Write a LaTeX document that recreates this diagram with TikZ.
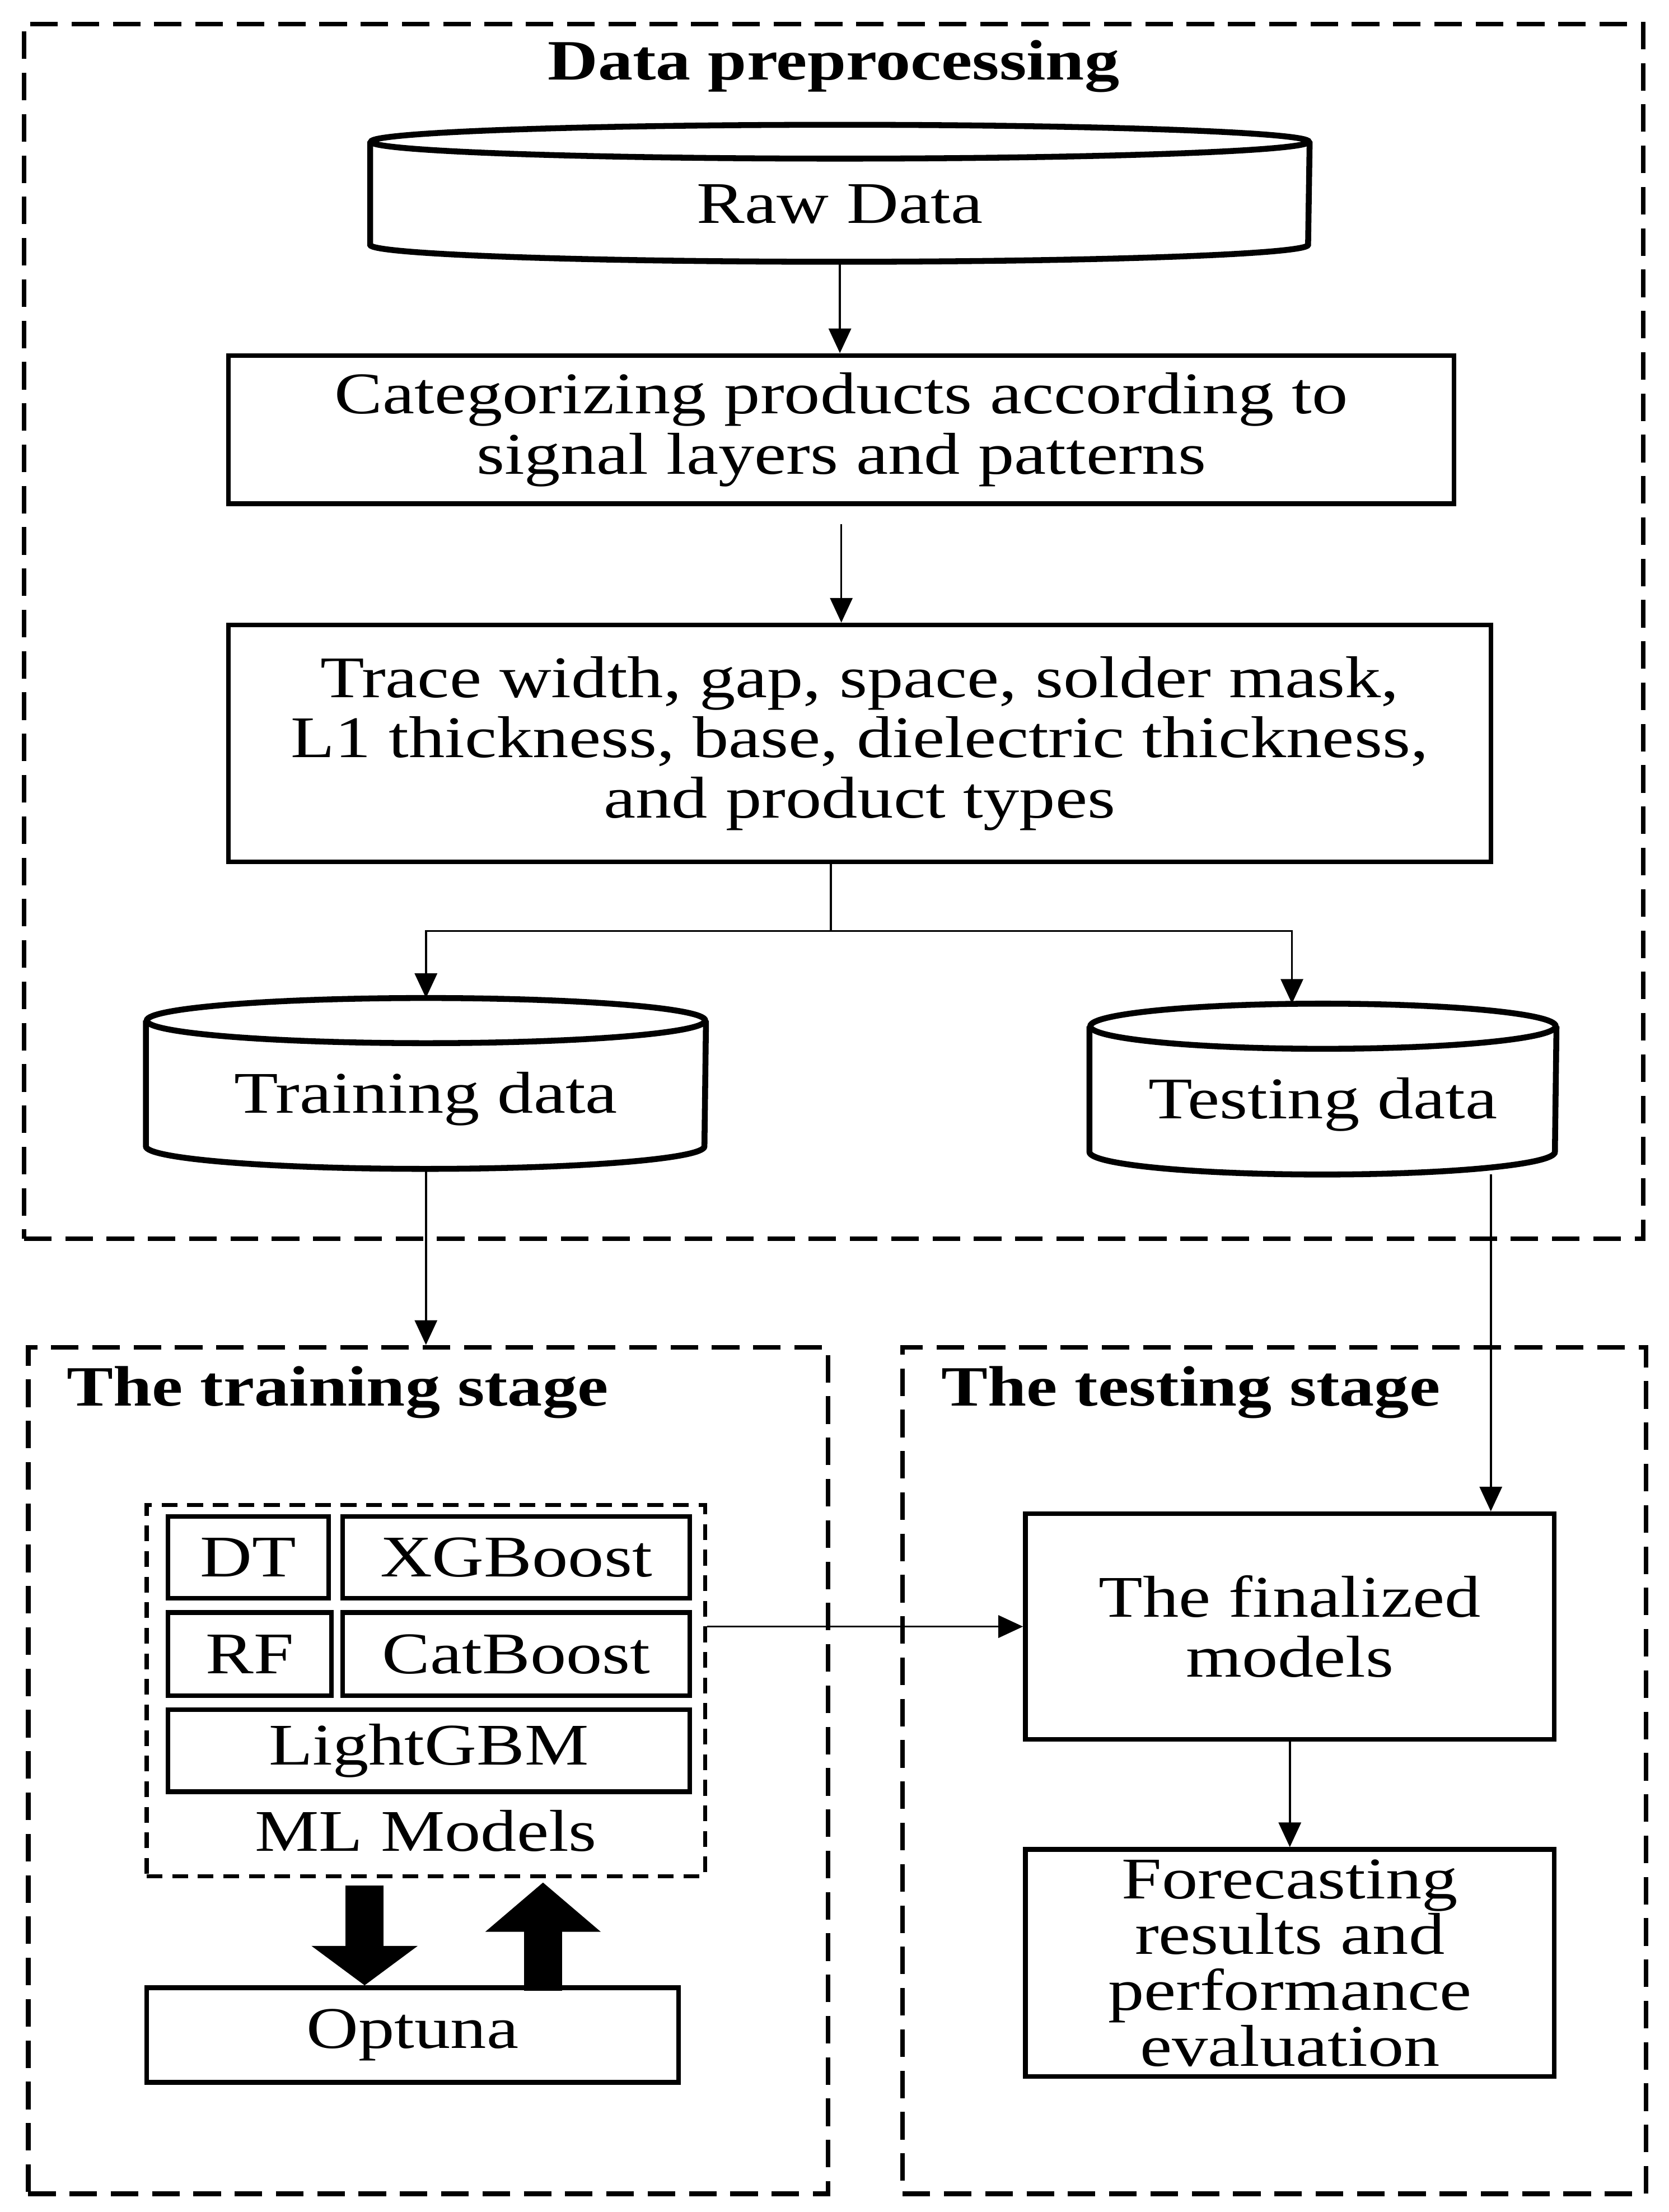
\documentclass[tikz,border=0pt]{standalone}
\usepackage{fontspec}
\setmainfont{Liberation Serif}[FakeStretch=1.22]
\usetikzlibrary{positioning,arrows.meta,calc}
\newcommand{\pu}{0.0126cm}
\tikzstyle{txt} = [font=\fontsize{15}{15.3}\selectfont]
\tikzstyle{ttl} = [font=\fontsize{14.5}{16}\selectfont\bfseries, inner sep=0pt]
\tikzstyle{box} = [draw, line width=1.2pt, align=center, inner sep=0pt, txt]
\tikzstyle{dbase} = [inner sep=0pt, text height=0.6cm, text depth=0.07cm, txt]
\tikzstyle{dbline} = [line width=1.5pt]
\tikzstyle{stage} = [draw, line width=1.2pt, dash pattern=on 7pt off 3.5pt, inner sep=0pt]
\tikzstyle{arrow} = [line width=0.5pt, -{Triangle[width=0.2cm, length=0.22cm]}]
\tikzstyle{fat} = [line width=27*\pu]
% database drum round a node: node, end radius, half width
\newcommand{\drawdb}[3]{%
  \draw[dbline] ([yshift=-#2]#1.north west) -- ([yshift=#2]#1.south west)
    arc[start angle=180, end angle=360, x radius=#3, y radius=#2] -- ([yshift=-#2]#1.north east);
  \draw[dbline] ([yshift=-#2]#1.north) ellipse[x radius=#3, y radius=#2];}

\begin{document}
\begin{tikzpicture}[x=\pu, y=-\pu]
\useasboundingbox (0,0) rectangle (1183,1568);
% frames
\node[stage, minimum width=1148*\pu, minimum height=861*\pu] (prebox) at (591,447.5) {};
\node[stage, minimum width=567*\pu, minimum height=600*\pu] (trainbox) at (303.5,1255) {};
\node[stage, minimum width=527*\pu, minimum height=600*\pu] (testbox) at (903.5,1255) {};
\node[ttl] (pretitle) at (591,47) {Data preprocessing};
\node[ttl, anchor=west] (traintitle) at (47,987) {The training stage};
\node[ttl, anchor=west] (testtitle) at (667,987) {The testing stage};

% data preprocessing
\node[dbase, minimum width=665*\pu, minimum height=96*\pu] (raw) at (595.5,137) {Raw Data};
\drawdb{raw}{12*\pu}{332.5*\pu}
\node[box, minimum width=869*\pu, minimum height=105*\pu] (cat) at (596.5,304.5) {Categorizing products according to\\signal layers and patterns};
\node[box, minimum width=895*\pu, minimum height=168*\pu] (feat) at (609.5,527) {Trace width, gap, space, solder mask,\\L1 thickness, base, dielectric thickness,\\and product types};
\node[dbase, minimum width=396*\pu, minimum height=120*\pu] (train) at (302,768) {Training data};
\drawdb{train}{16*\pu}{198*\pu}
\node[dbase, minimum width=330*\pu, minimum height=120*\pu] (test) at (938,772) {Testing data};
\drawdb{test}{16*\pu}{165*\pu}
\coordinate (split) at (589,660);

% training stage
\node[draw, line width=1pt, dash pattern=on 4pt off 2.5pt, minimum width=396*\pu, minimum height=263*\pu] (ml) at (302,1198.5) {};
\node[box, minimum width=114*\pu, minimum height=58*\pu] (dt) at (176,1104) {DT};
\node[box, minimum width=246*\pu, minimum height=58*\pu] (xgb) at (366,1104) {XGBoost};
\node[box, minimum width=116*\pu, minimum height=59*\pu] (rf) at (177,1172.5) {RF};
\node[box, minimum width=246*\pu, minimum height=59*\pu] (catb) at (366,1172.5) {CatBoost};
\node[box, minimum width=370*\pu, minimum height=58*\pu] (lgbm) at (304,1241) {LightGBM};
\node[txt] (mltext) at (302,1298) {ML Models};
\node[box, minimum width=377*\pu, minimum height=67*\pu] (opt) at (292.5,1442.5) {Optuna};

% testing stage
\node[box, minimum width=375*\pu, minimum height=160*\pu] (fin) at (914.5,1153) {The finalized\\models};
\node[box, minimum width=375*\pu, minimum height=161*\pu, font=\fontsize{15}{14.2}\selectfont] (fore) at (914.5,1391.5) {Forecasting\\results and\\performance\\evaluation};

% connectors
\draw[arrow] (raw.south) -- (raw.south |- cat.north);
\draw[arrow, shorten <=13*\pu] (cat.south) -- (cat.south |- feat.north);
\draw[line width=0.5pt] (feat.south -| split) -- (split);
\draw[arrow] (split) -| (train.north);
\draw[arrow] (split) -| ([xshift=-22*\pu]test.north);
\draw[arrow] (train.south) -- (train.south |- trainbox.north);
\draw[arrow] ([xshift=119*\pu]test.south) -- ([xshift=119*\pu]test.south |- fin.north);
\draw[arrow] (ml.east |- fin.west) -- (fin.west);
\draw[arrow] (fin.south) -- (fore.north);
\draw[fat, -{Triangle[width=74*\pu, length=28*\pu]}] ([xshift=-43.5*\pu, yshift=-5*\pu]ml.south) -- ([xshift=-43.5*\pu]ml.south |- opt.north);
\draw[fat, -{Triangle[width=80*\pu, length=35*\pu]}] ([xshift=83*\pu, yshift=-4*\pu]ml.south |- opt.north) -- ([xshift=83*\pu, yshift=-3*\pu]ml.south);
\end{tikzpicture}
\end{document}
